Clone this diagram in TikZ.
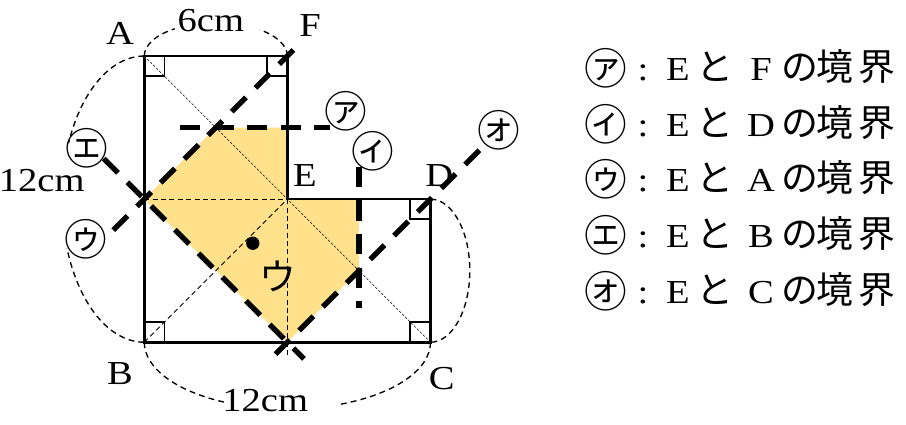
\documentclass[tikz,border=0pt]{standalone}
\usepackage{amssymb}
\usepackage{amsmath}
\usepackage{xcolor}
\usepackage{fontspec}
\setmainfont[FakeStretch=1.15]{Liberation Serif}
\newfontfamily\jp{Noto Sans CJK JP}
\usepackage{tikz}
\usetikzlibrary{positioning}
\definecolor{regionyellow}{RGB}{255,225,140}

\begin{document}
\begin{tikzpicture}[x=0.5cm, y=0.5cm,
    every node/.style={inner sep=0pt, font=\fontsize{20}{24}\selectfont},
    jlabel/.style={font=\jp\fontsize{22}{24}\selectfont},
    circlabel/.style={font=\jp\fontsize{25.5}{27}\selectfont},
    wall/.style={line width=1.6pt, line join=miter},
    border/.style={line width=3.2pt, dash pattern=on 12pt off 8pt},
    guide/.style={line width=0.6pt, dash pattern=on 3pt off 2pt},
    fine/.style={line width=0.35pt, dash pattern=on 1.5pt off 1pt},
    measure/.style={line width=0.8pt, dash pattern=on 3.5pt off 2.5pt},
    rightangle/.style={line width=1.1pt}]

    \useasboundingbox (-6.05,-3.43) rectangle (31.94,14.35);

    % corners of the L-shaped field
    \coordinate (B) at (0,0);
    \coordinate (C) at (12,0);
    \coordinate (D) at (12,6);
    \coordinate (E) at (6,6);
    \coordinate (F) at (6,12);
    \coordinate (A) at (0,12);
    \coordinate (W) at (0,6);
    \coordinate (S) at (6,0);
    \coordinate (Sx) at (6,-0.6);

    % region of E
    \fill[regionyellow] (W) -- (3,9) -- (6,9) -- (E) -- (9,6) -- (9,3) -- (S) -- cycle;

    % thin helper lines
    \draw[guide] (W) -- (E);
    \draw[guide] (E) -- (Sx);
    \draw[guide] (B) -- (E);
    \draw[fine] (A) -- (C);

    % outline
    \draw[wall] (A) -- (F) -- (E) -- (D) -- (C) -- (B) -- cycle;

    % right angles
    \draw[rightangle] (A) ++(0.85,0) -- ++(0,-0.85) -- ++(-0.85,0);
    \draw[rightangle] (F) ++(-0.85,0) -- ++(0,-0.85) -- ++(0.85,0);
    \draw[rightangle] (D) ++(-0.85,0) -- ++(0,-0.85) -- ++(0.85,0);
    \draw[rightangle] (C) ++(-0.85,0) -- ++(0,0.85) -- ++(0.85,0);
    \draw[rightangle] (B) ++(0.85,0) -- ++(0,0.85) -- ++(-0.85,0);

    % lengths
    \draw[measure] (A) arc[start angle=180, end angle=125, x radius=3, y radius=1.4];
    \draw[measure] (F) arc[start angle=0, end angle=52, x radius=3, y radius=1.4];
    \draw[measure] (A) arc[start angle=90, end angle=157, x radius=3.45, y radius=6];
    \draw[measure] (B) arc[start angle=270, end angle=200, x radius=3.45, y radius=6];
    \draw[measure] (B) arc[start angle=180, end angle=245, x radius=6, y radius=2.8];
    \draw[measure] (C) arc[start angle=360, end angle=292, x radius=6, y radius=2.8];
    \draw[measure] (D) arc[start angle=90, end angle=-90, x radius=1.65, y radius=3];

    % boundaries
    \coordinate (a1) at (1.5,9);    \coordinate (a2) at (7.8,9);
    \coordinate (i1) at (9,1.45);   \coordinate (i2) at (9,7.35);
    \coordinate (u1) at (-1.3,4.7); \coordinate (u2) at (6.3,12.3);
    \coordinate (e1) at (-1.7,7.7); \coordinate (e2) at (6.7,-0.7);
    \coordinate (o1) at (5.5,-0.5); \coordinate (o2) at (14.15,8.15);
    \draw[border] (a1) -- (a2);
    \draw[border] (i2) -- (i1);
    \draw[border] (u1) -- (u2);
    \draw[border] (e1) -- (e2);
    \draw[border] (o1) -- (o2);

    \fill (4.55,4.15) circle[radius=0.28];
    \node[jlabel] (regU) at (5.6,2.74) {ウ};

    % labels
    \node[anchor=base] (lblA) at (-1.02,12.47) {A};
    \node[anchor=base] (lblF) at (6.95,12.82) {F};
    \node[anchor=base] (lblE) at (6.74,6.52) {E};
    \node[anchor=base] (lblD) at (12.37,6.52) {D};
    \node[anchor=base] (lblB) at (-1.02,-1.79) {B};
    \node[anchor=base] (lblC) at (12.47,-2.0) {C};
    \node[anchor=base] (cm6) at (2.79,13.02) {6cm};
    \node[anchor=base] (cm12l) at (-4.3,6.3) {12cm};
    \node[anchor=base] (cm12b) at (5.07,-2.91) {12cm};

    \node[circlabel] (circA) at (8.46,9.67) {㋐};
    \node[circlabel] (circI) at (9.6,8.0) {㋑};
    \node[circlabel] (circU) at (-2.45,4.3) {㋒};
    \node[circlabel] (circE) at (-2.4,8.15) {㋓};
    \node[circlabel] (circO) at (14.87,8.9) {㋔};

    % key
    \foreach \lab/\pnt [count=\i] in {㋐/F, ㋑/D, ㋒/A, ㋓/B, ㋔/C}{
        \pgfmathsetmacro\y{10.97-2.335*(\i-1)}
        \node[circlabel] (key\i) at (19.35,\y+0.52) {\lab};
        \node[anchor=base] (colon\i) at (20.91,\y) {:};
        \node[anchor=base] (ee\i) at (22.38,\y) {E};
        \node[jlabel, anchor=base] (to\i) at (23.93,\y) {と};
        \node[anchor=base] (pt\i) at (25.86,\y) {\pnt};
        \node[jlabel, anchor=base] (no\i) at (27.49,\y) {の};
        \node[jlabel, anchor=base] (kyo\i) at (28.95,\y) {境};
        \node[jlabel, anchor=base] (kai\i) at (30.72,\y) {界};
    }
\end{tikzpicture}
\end{document}
